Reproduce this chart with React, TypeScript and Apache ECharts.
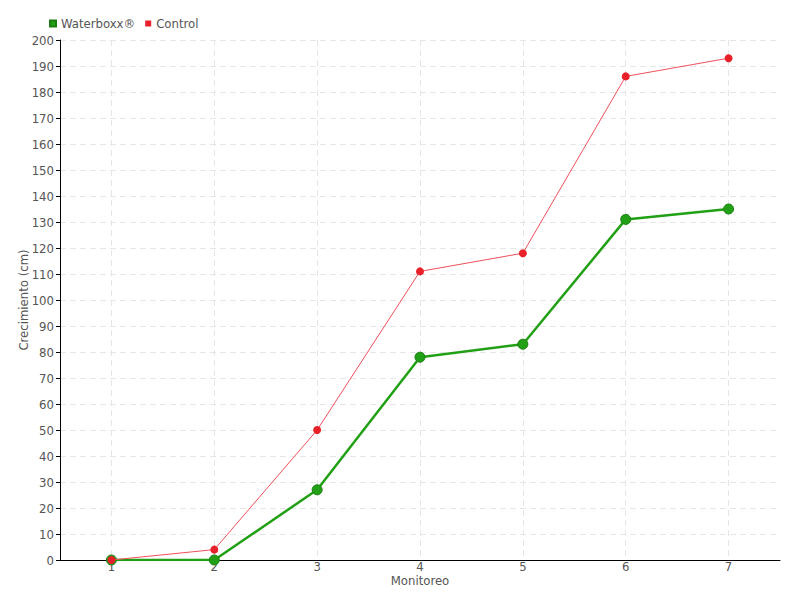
import React, { useEffect, useRef } from "react";
import * as echarts from "echarts";

const categories = ["1", "2", "3", "4", "5", "6", "7"];
const waterboxx = [0, 0, 27, 78, 83, 131, 135];
const control = [0, 4, 50, 111, 118, 186, 193];

const FONT = "DejaVu Sans Condensed";

export default function App() {
  const ref = useRef<HTMLDivElement>(null);
  useEffect(() => {
    const chart = echarts.init(ref.current!, null, { renderer: "svg" });
    chart.setOption({
      animation: false,
      textStyle: { fontFamily: FONT },
      legend: {
        left: 44,
        top: 12,
        itemWidth: 6,
        itemHeight: 6,
        itemGap: 10,
        icon: "rect",
        textStyle: { color: "#555", fontSize: 13, fontFamily: FONT },
        data: ["Waterboxx®", "Control"],
      },
      grid: { left: 60, right: 20, top: 40, bottom: 40 },
      xAxis: {
        type: "category",
        data: categories,
        name: "Monitoreo",
        nameLocation: "middle",
        nameGap: 14,
        nameMoveOverlap: false,
        nameTextStyle: { color: "#555", fontSize: 13 },
        axisLine: { lineStyle: { color: "#000", width: 1 } },
        axisTick: { alignWithLabel: true, length: 4, lineStyle: { color: "#000" } },
        axisLabel: { color: "#555", fontSize: 13, margin: 0 },
        splitLine: { show: true, alignWithLabel: true, lineStyle: { color: "#e6e6e6", type: [6, 4] } },
      },
      yAxis: {
        type: "value",
        min: 0,
        max: 200,
        interval: 10,
        name: "Crecimiento (cm)",
        nameLocation: "middle",
        nameGap: 30,
        nameMoveOverlap: false,
        nameTextStyle: { color: "#555", fontSize: 13 },
        axisLine: { show: true, lineStyle: { color: "#000", width: 1 } },
        axisTick: { show: true, length: 4, lineStyle: { color: "#000" } },
        axisLabel: { color: "#555", fontSize: 13, margin: 6 },
        splitLine: { show: true, lineStyle: { color: "#e6e6e6", type: [6, 4] } },
      },
      series: [
        {
          name: "Waterboxx®",
          type: "line",
          data: waterboxx,
          symbol: "circle",
          symbolSize: 10,
          color: "#22a015",
          lineStyle: { width: 2.5, color: "#22a015" },
          itemStyle: { color: "#22a015", borderColor: "#1a7f10", borderWidth: 1 },
          z: 2,
        },
        {
          name: "Control",
          type: "line",
          data: control,
          symbol: "circle",
          symbolSize: 8,
          color: "#e8202a",
          lineStyle: { width: 1, color: "#f0505a" },
          itemStyle: { color: "#e8202a", borderColor: "#e8202a", borderWidth: 0 },
          z: 3,
        },
      ],
    });
    return () => chart.dispose();
  }, []);
  return <div ref={ref} style={{ width: 800, height: 600, margin: -8 }} />;
}
